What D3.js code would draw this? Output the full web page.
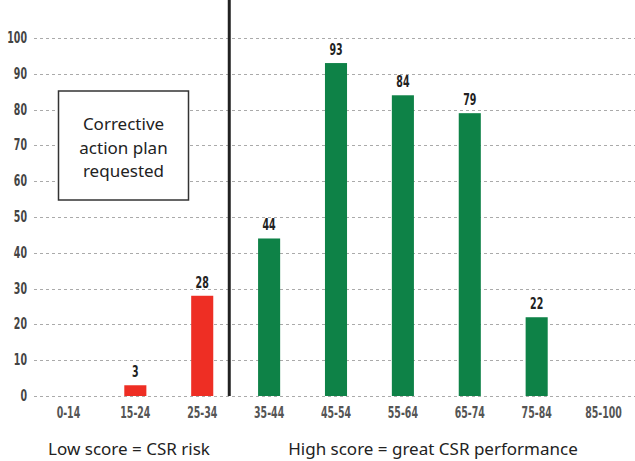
<!DOCTYPE html>
<html>
<head>
<meta charset="utf-8">
<script src="https://cdn.jsdelivr.net/npm/d3@7"></script>
<style>
  body { margin: 0; background: #fff; }
  .num { font-family: "DejaVu Sans Condensed", "DejaVu Sans", sans-serif; font-weight: bold; }
  .txt { font-family: "Noto Sans", "Open Sans", sans-serif; }
</style>
</head>
<body>
<svg id="canvas" width="635" height="461"></svg>
<script>
// score bands and number of companies per band
const categories = ["0-14", "15-24", "25-34", "35-44", "45-54", "55-64", "65-74", "75-84", "85-100"];
const values = [0, 3, 28, 44, 93, 84, 79, 22, 0];
const riskBands = ["0-14", "15-24", "25-34"];
const yTicks = [0, 10, 20, 30, 40, 50, 60, 70, 80, 90, 100];
const boxLines = ["Corrective", "action plan", "requested"];
const captions = ["Low score = CSR risk", "High score = great CSR performance"];

const svg = d3.select("#canvas");

const x = d3.scaleBand()
  .domain(categories)
  .range([35, 637])
  .paddingInner(0.67)
  .paddingOuter(0.335);

const y = d3.scaleLinear()
  .domain([0, 100])
  .range([396, 38]);

// narrow the numbers (no condensed bold font installed)
const squeeze = 0.7;

// gridlines
svg.append("g")
  .selectAll("line")
  .data(yTicks)
  .join("line")
  .attr("x1", 34).attr("x2", 635)
  .attr("y1", d => Math.round(y(d)) + 0.5)
  .attr("y2", d => Math.round(y(d)) + 0.5)
  .attr("stroke", "#aaa")
  .attr("stroke-width", 1)
  .attr("stroke-dasharray", "3,3");

// y labels
svg.append("g")
  .selectAll("text")
  .data(yTicks)
  .join("text")
  .attr("class", "num")
  .attr("transform", d => `translate(27,${y(d) + 5}) scale(${squeeze},1)`)
  .attr("text-anchor", "end")
  .attr("font-size", "15px")
  .attr("fill", "#444")
  .text(d => d);

const barData = categories.map((c, i) => ({ c, v: values[i] })).filter(d => d.v > 0);

// bars
svg.append("g")
  .selectAll("rect")
  .data(barData)
  .join("rect")
  .attr("x", d => x(d.c))
  .attr("y", d => y(d.v))
  .attr("width", x.bandwidth())
  .attr("height", d => y(0) - y(d.v))
  .attr("fill", d => riskBands.includes(d.c) ? "#ee2e24" : "#0e8247");

// value labels
svg.append("g")
  .selectAll("text")
  .data(barData)
  .join("text")
  .attr("class", "num")
  .attr("transform", d => `translate(${x(d.c) + x.bandwidth() / 2},${y(d.v) - 8}) scale(0.66,1)`)
  .attr("text-anchor", "middle")
  .attr("font-size", "16px")
  .attr("fill", "#222")
  .text(d => d.v);

// x labels
svg.append("g")
  .selectAll("text")
  .data(categories)
  .join("text")
  .attr("class", "num")
  .attr("transform", d => `translate(${x(d) + x.bandwidth() / 2},418) scale(${squeeze},1)`)
  .attr("text-anchor", "middle")
  .attr("font-size", "15px")
  .attr("fill", "#555")
  .text(d => d);

// separator between risk and performance bands
const sepX = x("25-34") + x.bandwidth() + 16;
svg.append("line")
  .attr("x1", sepX).attr("x2", sepX)
  .attr("y1", 0).attr("y2", y(0))
  .attr("stroke", "#222")
  .attr("stroke-width", 3);

// annotation box
const box = svg.append("g");
box.append("rect")
  .attr("x", 58.5).attr("y", 91)
  .attr("width", 130).attr("height", 109)
  .attr("fill", "#fff")
  .attr("stroke", "#333")
  .attr("stroke-width", 1.5);
box.selectAll("text")
  .data(boxLines)
  .join("text")
  .attr("class", "txt")
  .attr("x", 123.5)
  .attr("y", (d, i) => 130 + i * 23.5)
  .attr("text-anchor", "middle")
  .attr("font-size", "17px")
  .attr("fill", "#222")
  .text(d => d);

// captions under the axis
svg.append("text")
  .attr("class", "txt")
  .attr("x", 129).attr("y", 455)
  .attr("text-anchor", "middle")
  .attr("font-size", "17px")
  .attr("fill", "#222")
  .text(captions[0]);

svg.append("text")
  .attr("class", "txt")
  .attr("x", 433).attr("y", 455)
  .attr("text-anchor", "middle")
  .attr("font-size", "17px")
  .attr("fill", "#222")
  .text(captions[1]);
</script>
</body>
</html>
